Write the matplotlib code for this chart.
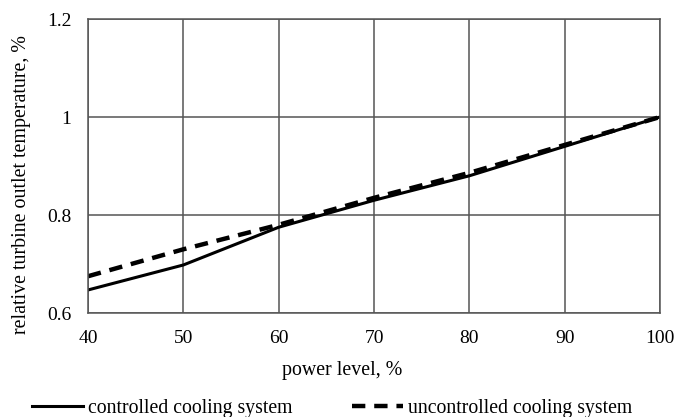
import matplotlib.pyplot as plt

plt.rcParams['font.family'] = ['Liberation Serif', 'DejaVu Serif']

# data
power = [40, 50, 60, 70, 80, 90, 100]
controlled = [0.647, 0.698, 0.775, 0.830, 0.880, 0.940, 1.000]
uncontrolled = [0.675, 0.730, 0.780, 0.835, 0.886, 0.943, 1.000]

fig = plt.figure(figsize=(6.76, 4.17), dpi=100)
ax = fig.add_axes([88 / 676, 1 - 313 / 417, 572 / 676, 294 / 417])

ax.plot(power, controlled, color='black', lw=2.2, label='controlled cooling system')
ax.plot(power, uncontrolled, color='black', lw=3.2, dashes=(3.0, 2.0),
        label='uncontrolled cooling system')

ax.set_xlim(40, 100)
ax.set_ylim(0.6, 1.2)
ax.set_xticks(power)
ax.set_yticks([0.6, 0.8, 1.0, 1.2])
ax.set_yticklabels(['0.6', '0.8', '1', '1.2'])
ax.grid(True, color='#555555', lw=1.1)
for s in ax.spines.values():
    s.set_color('#555555')
    s.set_linewidth(1.1)
ax.tick_params(length=0, labelsize=14)
ax.tick_params(axis='x', pad=12)
ax.tick_params(axis='y', pad=12)

# axis titles are centred a little off the plot area, as in the source
ax.set_xlabel('power level, %', fontsize=14.3, va='center', ha='center')
ax.xaxis.set_label_coords((342 - 88) / 572, (313 - 370) / 294)
ax.set_ylabel('relative turbine outlet temperature, %', fontsize=14.4, va='center', ha='center')
ax.yaxis.set_label_coords((22 - 88) / 572, (313 - 185) / 294)

fig.legend(loc='center', bbox_to_anchor=(332 / 676, 1 - 408 / 417), ncol=2, frameon=False,
           fontsize=14.2, handlelength=2.6, handletextpad=0.25, columnspacing=3.0)

fig.savefig('out.png', dpi=100)
